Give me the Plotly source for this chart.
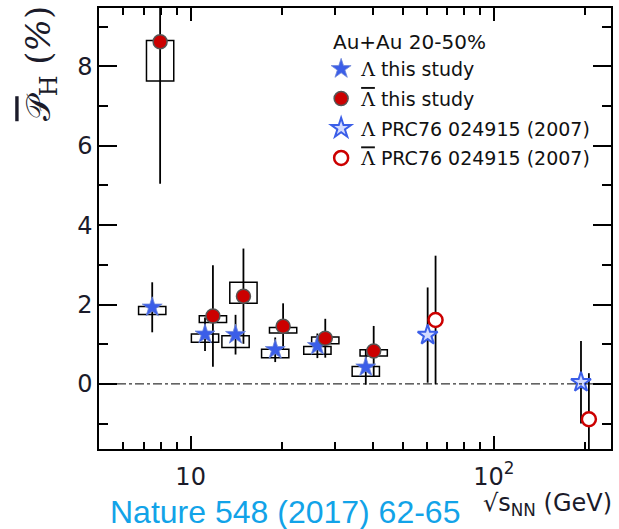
import plotly.graph_objects as go

# ---- data ----
energy_this = [7.7, 11.5, 14.5, 19.6, 27.0, 39.0]
lam_val = [1.93, 1.25, 1.24, 0.86, 0.96, 0.42]
lam_stat = [0.63, 0.42, 0.50, 0.31, 0.31, 0.44]
lam_sys_lo = [1.75, 1.05, 0.92, 0.66, 0.75, 0.19]
lam_sys_hi = [1.95, 1.26, 1.21, 0.87, 0.94, 0.44]

anti_val = [8.62, 1.71, 2.21, 1.45, 1.15, 0.83]
anti_stat = [3.58, 1.28, 1.20, 0.58, 0.49, 0.63]
anti_sys_lo = [7.63, 1.55, 2.03, 1.28, 1.01, 0.70]
anti_sys_hi = [8.65, 1.72, 2.56, 1.42, 1.18, 0.86]

energy_prc = [62.4, 200.0]
prc_lam_val = [1.23, 0.04]
prc_lam_stat = [1.20, 1.04]
prc_anti_val = [1.61, -0.89]
prc_anti_stat = [1.62, 1.16]

lam_shift = 0.97   # horizontal display offset (factor) for Lambda
anti_shift = 1.03  # horizontal display offset (factor) for anti-Lambda
box_half = 10 ** 0.045  # half-width of systematic boxes (log factor)

x_range = [0.6977, 2.3868]   # log10 units
y_range = [-1.64, 9.47]
x_tickvals = [10, 100]
x_ticktext = ["10", "10<sup>2</sup>"]
x_minor = [6, 7, 8, 9, 20, 30, 40, 50, 60, 70, 80, 90, 200]
y_tickvals = [0, 2, 4, 6, 8]
y_minor = [-1, 1, 3, 5, 7, 9]

BLUE = "#3b5ee8"
RED = "#cc0000"
SERIF = "DejaVu Serif"
LAM = f"<span style='font-family:{SERIF}'>Λ</span>"
ALAM = f"<span style='font-family:{SERIF};text-decoration:overline'>Λ</span>"

lam_x = [e * lam_shift for e in energy_this]
anti_x = [e * anti_shift for e in energy_this]
prc_lam_x = [e * lam_shift for e in energy_prc]
prc_anti_x = [e * anti_shift for e in energy_prc]

fig = go.Figure()

def err_trace(x, y, e):
    return go.Scatter(x=x, y=y, mode="markers", showlegend=False, hoverinfo="skip",
                      marker=dict(size=1, color="rgba(0,0,0,0)"),
                      error_y=dict(type="data", array=e, visible=True, color="black",
                                   thickness=1.8, width=0))

for x, y, e in [(lam_x, lam_val, lam_stat), (anti_x, anti_val, anti_stat),
                (prc_lam_x, prc_lam_val, prc_lam_stat), (prc_anti_x, prc_anti_val, prc_anti_stat)]:
    fig.add_trace(err_trace(x, y, e))

fig.add_trace(go.Scatter(x=lam_x, y=lam_val, mode="markers", name=f"{LAM} this study",
                         legendgroup="a",
                         marker=dict(symbol="star", size=15, color=BLUE,
                                     line=dict(color="#6f86d8", width=0.8))))
fig.add_trace(go.Scatter(x=anti_x, y=anti_val, mode="markers", name=f"{ALAM} this study",
                         legendgroup="b",
                         marker=dict(symbol="circle", size=14, color=RED,
                                     line=dict(color="#555555", width=1.5))))
fig.add_trace(go.Scatter(x=prc_lam_x, y=prc_lam_val, mode="markers",
                         name=f"{LAM} PRC76 024915 (2007)", legendgroup="c",
                         marker=dict(symbol="star", size=15, color="#d4dbff",
                                     line=dict(color=BLUE, width=2))))
fig.add_trace(go.Scatter(x=prc_anti_x, y=prc_anti_val, mode="markers",
                         name=f"{ALAM} PRC76 024915 (2007)", legendgroup="d",
                         marker=dict(symbol="circle", size=14, color="white",
                                     line=dict(color=RED, width=2.5))))

# invisible trace that carries the overlay axes used for minor ticks
fig.add_trace(go.Scatter(x=[x_minor[0]], y=[y_minor[0]], xaxis="x2", yaxis="y2",
                         mode="markers", marker=dict(size=1, color="rgba(0,0,0,0)"),
                         showlegend=False, hoverinfo="skip"))

# systematic boxes
for xs, lo, hi in [(lam_x, lam_sys_lo, lam_sys_hi), (anti_x, anti_sys_lo, anti_sys_hi)]:
    for xc, a, b in zip(xs, lo, hi):
        fig.add_shape(type="rect", xref="x", yref="y",
                      x0=xc / box_half, x1=xc * box_half, y0=a, y1=b,
                      line=dict(color="black", width=1.5),
                      fillcolor="rgba(0,0,0,0)", layer="below")

# zero line
fig.add_shape(type="line", xref="paper", yref="y", x0=0, x1=1, y0=0, y1=0,
              line=dict(color="black", width=1, dash="dashdot"))

tickfont = dict(family="DejaVu Sans", size=24, color="#1b1b2a")

fig.update_layout(
    xaxis=dict(type="log", range=x_range, tickmode="array", tickvals=x_tickvals,
               ticktext=x_ticktext, ticks="inside", ticklen=13, tickwidth=1.5,
               tickcolor="black", showline=True, linecolor="black", linewidth=1.5,
               mirror="allticks", ticklabelstandoff=5, tickfont=tickfont,
               showgrid=False, zeroline=False),
    yaxis=dict(range=y_range, tickmode="array", tickvals=y_tickvals, ticks="inside",
               ticklen=18, tickwidth=1.5, tickcolor="black", showline=True,
               linecolor="black", linewidth=1.5, mirror="allticks", tickfont=tickfont,
               showgrid=False, zeroline=False),
    xaxis2=dict(type="log", range=x_range, overlaying="x", side="bottom", anchor="y2",
                tickmode="array", tickvals=x_minor, ticks="inside", ticklen=7,
                tickcolor="black", tickwidth=1.5, showticklabels=False, mirror="allticks",
                showgrid=False, zeroline=False),
    yaxis2=dict(range=y_range, overlaying="y", side="left", anchor="x2",
                tickmode="array", tickvals=y_minor, ticks="inside", ticklen=9,
                tickcolor="black", tickwidth=1.5, showticklabels=False, mirror="allticks",
                showgrid=False, zeroline=False),
)

fig.add_annotation(text="Au+Au 20-50%", xref="paper", yref="paper",
                   x=(332 - 99) / 514, y=(449 - 42) / 441, xanchor="left", yanchor="middle",
                   showarrow=False, font=dict(family="DejaVu Sans", size=20, color="#111111"))
fig.add_annotation(text="<span style='text-decoration:overline'>𝒫</span><sub>H</sub> (<i>%</i>)",
                   xref="paper", yref="paper",
                   x=(40 - 99) / 514, y=(449 - 64) / 441, xanchor="center", yanchor="middle",
                   textangle=-90, showarrow=False,
                   font=dict(family="DejaVu Serif", size=34, color="#1b1b2a"))
fig.add_annotation(text="√s<sub>NN</sub> (GeV)", xref="paper", yref="paper",
                   x=(616 - 99) / 514, y=(449 - 504) / 441, xanchor="right", yanchor="middle",
                   showarrow=False, font=dict(family="DejaVu Sans", size=24, color="#1b1b2a"))
fig.add_annotation(text="Nature 548 (2017) 62-65", xref="paper", yref="paper",
                   x=(108 - 99) / 514, y=(449 - 512) / 441, xanchor="left", yanchor="middle",
                   showarrow=False, font=dict(family="Liberation Sans", size=32, color="#12a3e8"))

fig.update_layout(width=619, height=529, margin=dict(l=99, r=6, t=8, b=80),
                  paper_bgcolor="white", plot_bgcolor="white",
                  legend=dict(x=(322 - 99) / 514, y=(449 - 50) / 441, xanchor="left",
                              yanchor="top", bgcolor="rgba(0,0,0,0)", traceorder="grouped",
                              tracegroupgap=2,
                              font=dict(family="DejaVu Sans", size=19, color="#111111")))

fig.write_html("out.html")
